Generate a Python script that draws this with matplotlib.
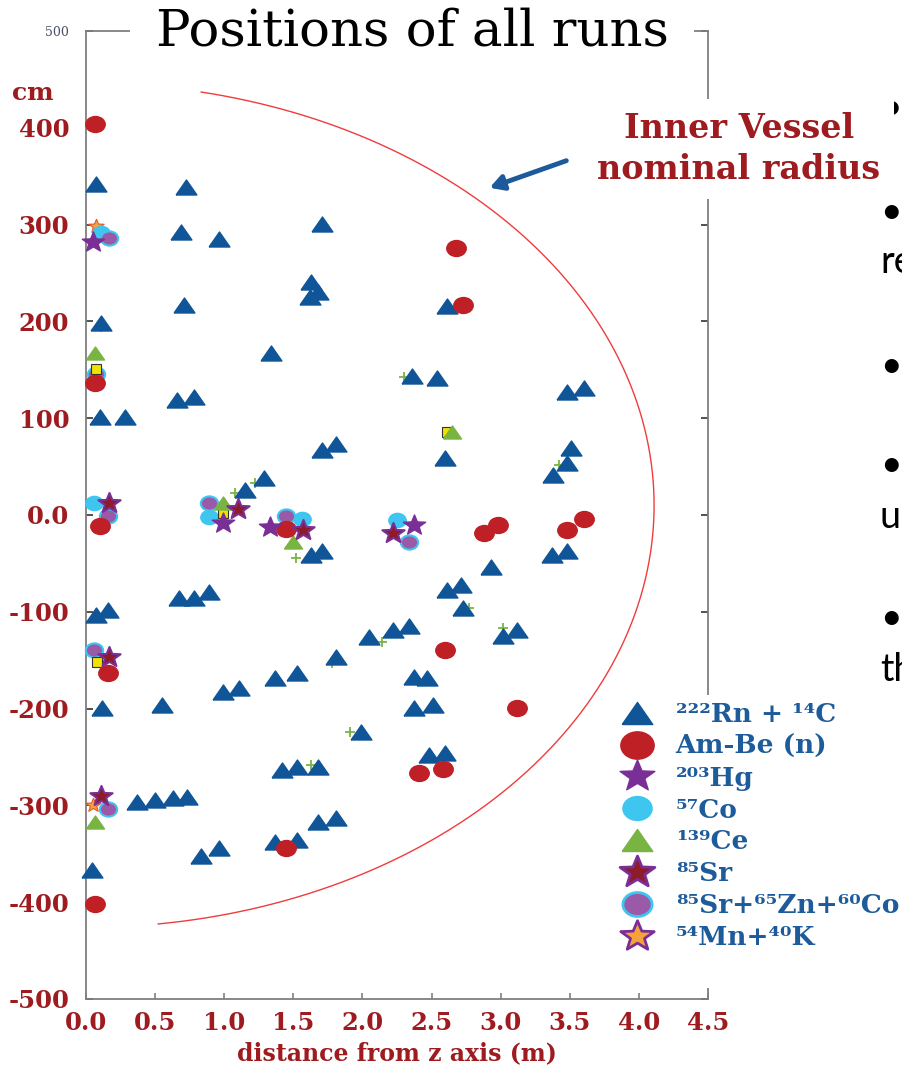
import numpy as np
import matplotlib
matplotlib.use("Agg")
import matplotlib.pyplot as plt
from matplotlib.path import Path
from matplotlib.lines import Line2D
from matplotlib.patches import Rectangle
from matplotlib.font_manager import FontProperties
import matplotlib.transforms as mtransforms

# ---------------- data (x in m, y in cm) ----------------
RN_X = [0.07, 0.72, 1.71, 0.69, 0.96, 1.63, 1.68, 1.62, 0.11, 0.71, 2.61, 1.34, 2.36, 2.54,
        0.66, 0.78, 0.10, 0.28, 1.71, 1.81, 1.15, 1.29, 1.63, 1.71, 0.67, 0.78, 0.89, 0.07,
        0.16, 2.05, 2.22, 2.34, 1.81, 1.37, 1.53, 0.99, 1.11, 2.37, 2.47, 0.115, 0.55, 2.37,
        2.51, 3.48, 3.60, 3.51, 3.48, 3.38, 3.37, 3.48, 2.93, 2.71, 2.61, 2.73, 3.02, 3.12,
        2.60, 1.99, 1.42, 1.53, 1.68, 2.48, 2.60, 0.37, 0.50, 0.63, 0.73, 1.68, 1.81, 1.37,
        1.53, 0.83, 0.96, 0.04]
RN_Y = [342, 339, 301, 292, 285, 241, 230, 225, 198, 217, 216, 167, 144, 142,
        119, 122, 101, 101, 67, 73, 26, 38, -41, -37, -86, -86, -80, -103,
        -98, -126, -119, -115, -147, -168, -163, -183, -179, -167, -168, -199, -196, -199,
        -196, 127, 131, 69, 54, 41, -41, -37, -54, -72, -77, -96, -125, -119,
        59, -224, -263, -260, -260, -248, -246, -296, -294, -292, -291, -317, -313, -338,
        -336, -352, -344, -367]

AMBE_X = [0.065, 2.68, 2.73, 0.065, 0.10, 1.45, 2.88, 2.98, 3.48, 3.60, 2.60, 0.16, 3.12,
          2.41, 2.58, 1.45, 0.065]
AMBE_Y = [404, 276, 217, 136, -11, -14, -19, -10, -15, -4, -139, -163, -199,
          -267, -262, -344, -402]

HG_X = [0.05, 0.99, 1.33, 2.37]
HG_Y = [282, -8, -12, -10]

CO_X = [0.11, 0.06, 0.89, 1.56, 2.25]
CO_Y = [291, 12, -2, -4, -5]

CE_X = [0.065, 0.99, 1.50, 2.65, 0.065]
CE_Y = [167, 12, -28, 86, -317]

SR_X = [0.165, 1.10, 1.57, 2.22, 0.165, 0.11]
SR_Y = [12, 6, -15, -19, -147, -290]

SRZNCO_X = [0.17, 0.07, 0.16, 0.89, 1.45, 2.34, 0.06, 0.16]
SRZNCO_Y = [286, 146, -1, 12, -1, -28, -139, -304]

MNK_X = [0.07, 0.05]
MNK_Y = [299, -300]

YEL_X = [0.07, 0.99, 0.08, 2.61]
YEL_Y = [151, 2, -152, 86]

PLUS_X = [0.11, 1.08, 1.22, 1.52, 2.14, 1.78, 2.30, 3.42, 2.77, 3.02, 1.91, 1.42, 1.63, 2.63]
PLUS_Y = [194, 23, 33, -44, -131, -153, 143, 52, -96, -117, -224, -267, -258, 214]

XTICKS = [0.0, 0.5, 1.0, 1.5, 2.0, 2.5, 3.0, 3.5, 4.0, 4.5]
XTICK_LABELS = ["0.0", "0.5", "1.0", "1.5", "2.0", "2.5", "3.0", "3.5", "4.0", "4.5"]
YTICKS = [-500, -400, -300, -200, -100, 0, 100, 200, 300, 400, 500]
YTICK_LABELS = ["-500", "-400", "-300", "-200", "-100", "0.0", "100", "200", "300", "400", "500"]

LEGEND_LABELS = ["²²²Rn + ¹⁴C", "Am-Be (n)", "²⁰³Hg", "⁵⁷Co", "¹³⁹Ce", "⁸⁵Sr",
                 "⁸⁵Sr+⁶⁵Zn+⁶⁰Co", "⁵⁴Mn+⁴⁰K"]

# inner vessel nominal outline (ellipse parameters as drawn)
IV_RX = 4.11      # m
IV_RY = 436.0     # cm
IV_CY = 10.0      # cm
IV_T0, IV_T1 = 78.3, -82.7   # degrees

# ---------------- styles ----------------
C_RN = "#0f5597"
C_AMBE = "#be2026"
C_HG = "#7a2f97"
C_CO = "#3ec6f0"
C_CE = "#79b443"
C_SR = "#8e1b2a"
C_SZC = "#9b5aa8"
C_MNK = "#f6a23a"
C_TICK = "#9e1b1f"
C_LEG = "#1d5b9b"

W, H = 902, 1071
fig = plt.figure(figsize=(W / 100, H / 100), dpi=100)
ax = fig.add_axes([86 / W, 1 - 999 / H, (708 - 86) / W, (999 - 31) / H])

# custom (slightly squashed) markers
TRI = [(-1, -0.72), (1, -0.72), (0, 0.72), (-1, -0.72)]
circ = Path.unit_circle()
ELL = Path(circ.vertices * np.array([1.0, 0.82]), circ.codes)
st = Path.unit_regular_star(5, 0.42)
STAR = Path(st.vertices * np.array([1.0, 0.9]), st.codes)

kw = dict(linestyle="none", clip_on=False)
ax.plot(PLUS_X, PLUS_Y, marker="+", ms=7, mew=1.3, color=C_CE, zorder=2, **kw)
ax.plot(RN_X, RN_Y, marker=TRI, ms=15, color=C_RN, mec=C_RN, zorder=3, **kw)
ax.plot(MNK_X, MNK_Y, marker=STAR, ms=11, mfc=C_MNK, mec="#e05a2a", mew=0.8, zorder=3.5, **kw)
ax.plot(CO_X, CO_Y, marker=ELL, ms=12.5, color=C_CO, zorder=4, **kw)
ax.plot(SRZNCO_X, SRZNCO_Y, marker=ELL, ms=12.5, mfc=C_SZC, mec=C_CO, mew=1.5, zorder=4.5, **kw)
ax.plot(YEL_X, YEL_Y, marker="s", ms=7, mfc="#f2e200", mec="#333333", mew=0.8, zorder=5, **kw)
ax.plot(CE_X, CE_Y, marker=TRI, ms=13, color=C_CE, zorder=5, **kw)
ax.plot(AMBE_X, AMBE_Y, marker=ELL, ms=14, color=C_AMBE, zorder=6, **kw)
ax.plot(HG_X, HG_Y, marker=STAR, ms=16, color=C_HG, zorder=7, **kw)
ax.plot(SR_X, SR_Y, marker=STAR, ms=16, mfc=C_SR, mec=C_HG, mew=1.5, zorder=7, **kw)

# inner vessel outline
t = np.radians(np.linspace(IV_T0, IV_T1, 400))
ax.plot(IV_RX * np.cos(t), IV_CY + IV_RY * np.sin(t), color="#f03c3c", lw=1.0, zorder=1)

ax.set_xlim(0, 4.5)
ax.set_ylim(-500, 500)

serif_b = dict(family="DejaVu Serif", weight="bold")
ax.set_xticks(XTICKS, XTICK_LABELS)
ax.set_yticks(YTICKS, YTICK_LABELS)
for lab in ax.get_xticklabels() + ax.get_yticklabels():
    lab.set_fontfamily("DejaVu Serif")
    lab.set_fontweight("bold")
    lab.set_fontsize(17.5)
    lab.set_color(C_TICK)
top_lab = ax.get_yticklabels()[-1]
top_lab.set_fontsize(9)
top_lab.set_fontweight("normal")
top_lab.set_color("#4a4f63")
# first x labels sit a little to the right of their ticks
xl = ax.get_xticklabels()
for lab, dx in zip(xl[:2], [21, 11]):
    lab.set_transform(lab.get_transform() + mtransforms.ScaledTranslation(dx / 100, 0, fig.dpi_scale_trans))

ax.tick_params(axis="y", which="both", direction="in", length=5, width=1.2, color="#333333",
               pad=12, right=True, left=True)
ax.tick_params(axis="x", which="both", direction="in", length=4, width=1.2, color="#7f7f7f",
               pad=9)
for sp in ax.spines.values():
    sp.set_color("#7f7f7f")
    sp.set_linewidth(1.3)

ax.set_xlabel("distance from z axis (m)", fontsize=17, color=C_TICK, labelpad=4, **serif_b)

fig.text(33 / W, 1 - 93 / H, "cm", fontsize=18, color=C_TICK, ha="center", va="center", **serif_b)

# title with white box that hides the top spine
fig.text(412 / W, 1 - 46 / H, "Positions of all runs", fontsize=37, family="DejaVu Serif",
         color="black", ha="center", va="baseline",
         bbox=dict(boxstyle="square,pad=0.5", fc="white", ec="none"), zorder=5)

# inner vessel annotation
fig.text(739 / W, 1 - 149 / H, "Inner Vessel\nnominal radius", fontsize=24, color=C_TICK,
         ha="center", va="center", linespacing=1.3,
         bbox=dict(boxstyle="square,pad=0.4", fc="white", ec="none"), zorder=5, **serif_b)
ax.annotate("", xy=(2.92, 338), xytext=(3.475, 366),
            arrowprops=dict(arrowstyle="-|>,head_length=0.8,head_width=0.45", lw=3.5,
                            color="#1c5a9c", shrinkA=0, shrinkB=0),
            annotation_clip=False, zorder=8)

# white area behind legend (hides right spine there)
fig.add_artist(Rectangle((600 / W, 1 - 988 / H), (W - 600) / W, (988 - 695) / H,
                         transform=fig.transFigure, fc="white", ec="none", zorder=4))

handles = [
    Line2D([], [], ls="none", marker=TRI, ms=22, color=C_RN),
    Line2D([], [], ls="none", marker=ELL, ms=24, color=C_AMBE),
    Line2D([], [], ls="none", marker=STAR, ms=25, color=C_HG),
    Line2D([], [], ls="none", marker=ELL, ms=21, color=C_CO),
    Line2D([], [], ls="none", marker=TRI, ms=22, color=C_CE),
    Line2D([], [], ls="none", marker=STAR, ms=25, mfc=C_SR, mec=C_HG, mew=2),
    Line2D([], [], ls="none", marker=ELL, ms=21, mfc=C_SZC, mec=C_CO, mew=2),
    Line2D([], [], ls="none", marker=STAR, ms=24, mfc=C_MNK, mec=C_HG, mew=2),
]
leg = fig.legend(handles, LEGEND_LABELS, loc="upper left", bbox_to_anchor=(619 / W, 1 - 702 / H),
                 frameon=False, prop=FontProperties(family="DejaVu Serif", weight="bold", size=19),
                 labelcolor=C_LEG, handlelength=1.4, handletextpad=0.75, labelspacing=0.26,
                 borderpad=0, borderaxespad=0)
leg.set_zorder(6)

# clipped slide text on the right
side = [(108, "•"), (212, "•"), (262, "re"), (365, "•("), (465, "•'"), (517, "u"),
        (618, "•"), (670, "th")]
for yy, s in side:
    fig.text(880 / W, 1 - yy / H, s, fontsize=27, family=["Lato", "DejaVu Sans"],
             color="black", ha="left", va="center")

fig.savefig("out.png", dpi=100)
